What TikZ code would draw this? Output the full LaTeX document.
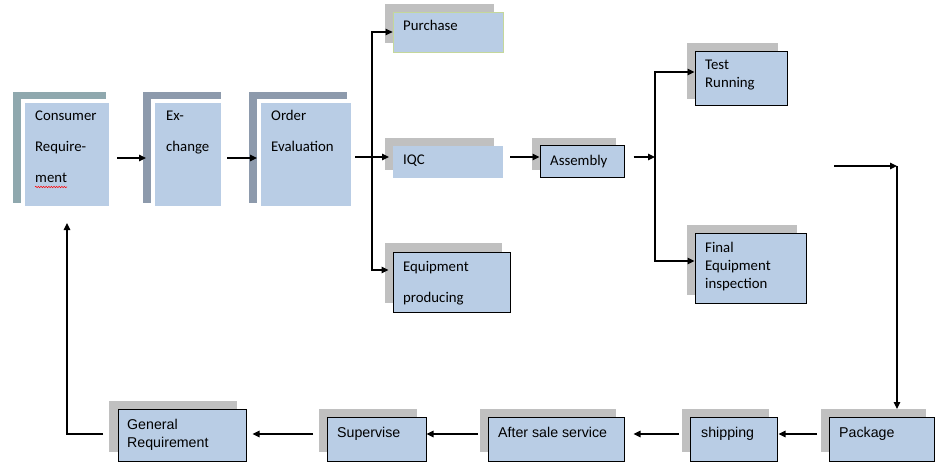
\documentclass[tikz,border=0pt]{standalone}
\usepackage{fontspec}
\setmainfont{Carlito}
\newfontfamily\tahomalike{Liberation Sans}
\usetikzlibrary{arrows.meta,calc,decorations.pathmorphing}
\definecolor{boxblue}{HTML}{B9CDE5}
\definecolor{shgray}{HTML}{C0C0C0}
\definecolor{shteal}{HTML}{8FA8AE}
\definecolor{shslate}{HTML}{8D9AAC}
\definecolor{pgreen}{HTML}{C4D79B}
\newcommand\calf{\fontsize{14.8}{16}\selectfont}
\newcommand\tahf{\tahomalike\fontsize{14.2}{16}\selectfont}
\begin{document}
\begin{tikzpicture}[x=1pt,y=-1pt,
  sz/.style 2 args={minimum width=#1,minimum height=#2},
  shadowbox/.style={fill=shgray,draw=none,inner sep=0pt,outer sep=0pt},
  topbox/.style={fill=boxblue,draw=white,line width=4pt,inner sep=0pt},
  plainbox/.style={fill=boxblue,draw=none,inner sep=0pt,outer sep=0pt},
  blkbox/.style={fill=boxblue,draw=black,line width=1pt,inner sep=0pt},
  lbl/.style={font=\calf,anchor=base west,inner sep=0pt},
  lblb/.style={font=\tahf,anchor=base west,inner sep=0pt},
  arr/.style={-{Triangle[length=7pt,width=6.5pt]},line width=1.1pt},
  ln/.style={line width=1.1pt}]
\useasboundingbox[fill=white] (0,0) rectangle (950,473);

% top-left boxes
\node[shadowbox,fill=shteal,sz={93pt}{111pt}] (consS) at (59.5,147.5) {};
\node[topbox,sz={88pt}{107pt}] (consF) at (67,154.5) {};
\node[shadowbox,fill=shslate,sz={78pt}{111pt}] (exS) at (182,147.5) {};
\node[topbox,sz={70pt}{107pt}] (exF) at (188,154.5) {};
\node[shadowbox,fill=shslate,sz={98pt}{111pt}] (ordS) at (298,147.5) {};
\node[topbox,sz={94pt}{107pt}] (ordF) at (306,154.5) {};

% middle column
\node[shadowbox,sz={109pt}{39pt}] (purS) at (439.5,23.5) {};
\node[fill=boxblue,draw=pgreen,line width=0.8pt,inner sep=0pt,sz={110pt}{40pt}] (purF) at (448,32) {};
\node[shadowbox,sz={109pt}{32pt}] (iqcS) at (439.5,154) {};
\node[plainbox,sz={110pt}{32pt}] (iqcF) at (448,162) {};
\node[shadowbox,sz={117pt}{60pt}] (eqS) at (443.5,273) {};
\node[blkbox,sz={117pt}{60pt}] (eqF) at (451.5,282) {};
\node[shadowbox,sz={84pt}{32pt}] (asmS) at (574,154) {};
\node[blkbox,sz={84pt}{32pt}] (asmF) at (582,162) {};

% right column
\node[shadowbox,sz={91pt}{56pt}] (testS) at (732.5,71) {};
\node[blkbox,sz={92pt}{54pt}] (testF) at (741,79) {};
\node[shadowbox,sz={110pt}{70pt}] (finS) at (742,260) {};
\node[blkbox,sz={111pt}{70pt}] (finF) at (750.5,268) {};

% bottom row
\node[shadowbox,sz={105pt}{43pt}] (pkS) at (873.5,430.5) {};
\node[blkbox,sz={105pt}{44pt}] (pkF) at (881.5,439) {};
\node[shadowbox,sz={87pt}{43pt}] (shS) at (725.5,430.5) {};
\node[blkbox,sz={87pt}{44pt}] (shF) at (733.5,439) {};
\node[shadowbox,sz={136pt}{43pt}] (afS) at (548,430.5) {};
\node[blkbox,sz={136pt}{44pt}] (afF) at (556,439) {};
\node[shadowbox,sz={98pt}{43pt}] (supS) at (368,430.5) {};
\node[blkbox,sz={99pt}{44pt}] (supF) at (376.5,439) {};
\node[shadowbox,sz={128pt}{51pt}] (genS) at (173,426.5) {};
\node[blkbox,sz={128pt}{52pt}] (genF) at (182,435) {};

% labels
\node[lbl] (t1) at (35,121) {Consumer};
\node[lbl] (t2) at (35,152) {Require-};
\node[lbl] (t3) at (35,183) {ment};
\draw[red,line width=0.5pt,decorate,decoration={snake,amplitude=0.7pt,segment length=2.6pt}]
  ($(t3.base west)+(0,4)$) -- ($(t3.base east)+(0,4)$);
\node[lbl] (t4) at (166,121) {Ex-};
\node[lbl] (t5) at (166,152) {change};
\node[lbl] (t6) at (271,121) {Order};
\node[lbl] (t7) at (271,152) {Evaluation};
\node[lbl] (t8) at (403,31) {Purchase};
\node[lbl] (t9) at (403,165) {IQC};
\node[lbl] (t10) at (403,271) {Equipment};
\node[lbl] (t11) at (403,302) {producing};
\node[lbl] (t12) at (550,166) {Assembly};
\node[lbl] (t13) at (705,70) {Test};
\node[lbl] (t14) at (705,88) {Running};
\node[lbl] (t15) at (705,252) {Final};
\node[lbl] (t16) at (705,270) {Equipment};
\node[lbl] (t17) at (705,288) {inspection};
\node[lblb] (t18) at (839,437) {Package};
\node[lblb] (t19) at (701,437) {shipping};
\node[lblb] (t20) at (498,437) {After sale service};
\node[lblb] (t21) at (337,437) {Supervise};
\node[lblb] (t22) at (127,429) {General};
\node[lblb] (t23) at (127,447) {Requirement};

% connectors
\coordinate (br1) at (372,157);
\coordinate (br2) at (655,157);
\coordinate (fr) at (834,166);
\coordinate (cr) at (897,166);

\draw[arr] ($(consF.east)+(4,3.5)$) -- ($(exS.west)+(3,10.5)$);
\draw[arr] ($(exF.east)+(2,3.5)$) -- ($(ordF.west)+(0,3.5)$);
\draw[ln] ($(ordF.east)+(0,2.5)$) -- (br1);
\draw[arr] (br1) |- (purF.west);
\draw[arr] (br1) -- ($(iqcF.west)+(-4,-5)$);
\draw[arr] (br1) |- ($(eqF.west)+(-4,-12)$);
\draw[arr] ($(iqcF.east)+(7,-5)$) -- ($(asmF.west)+(0,-5)$);
\draw[arr] ($(asmF.east)+(9,-5)$) -- (br2);
\draw[arr] (br2) |- ($(testF.west)+(0,-7)$);
\draw[arr] (br2) |- ($(finF.west)+(0,-7)$);
\draw[arr] (fr) -- (cr);
\draw[arr] (cr) -- (cr |- pkS.north);
\draw[arr] ($(pkS.west)+(-4,3.5)$) -- ($(shF.east)+(1,-5)$);
\draw[arr] ($(shS.west)+(-3,3.5)$) -- ($(afF.east)+(9,-5)$);
\draw[arr] ($(afS.west)+(-2,3.5)$) -- ($(supF.east)+(0,-5)$);
\draw[arr] ($(supS.west)+(-6,3.5)$) -- ($(genF.east)+(6,-1)$);
\draw[arr] ($(genS.west)+(-6,7.5)$) -| ($(consF.south)+(0,13)$);
\end{tikzpicture}
\end{document}
